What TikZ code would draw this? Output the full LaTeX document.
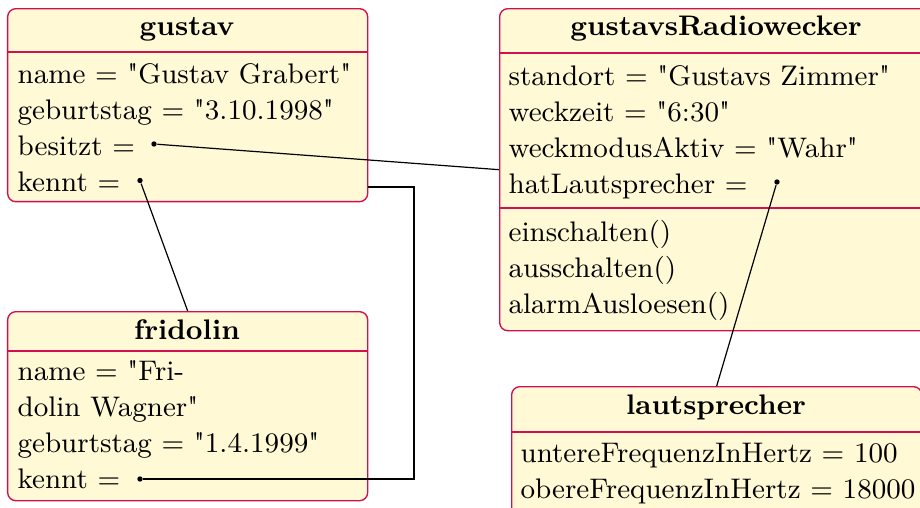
\documentclass[tikz,border=0pt]{standalone}
\definecolor{boxfill}{RGB}{255,249,214}
\definecolor{boxline}{RGB}{210,16,80}
\font\lmquote="[lmroman9-regular]" at 9.43pt
\newcommand\qd{{\lmquote\char"22}}
\newcommand\txtsize{\fontsize{9.43pt}{11.3pt}\selectfont}
\begin{document}
\begin{tikzpicture}[x=0.33333pt,y=-0.33333pt,
  cls/.style={draw=boxline,fill=boxfill,line width=0.45pt,rounded corners=2.7pt,inner sep=0pt,anchor=north west},
  sep/.style={draw=boxline,line width=0.45pt},
  title/.style={inner sep=0pt,anchor=base,font=\txtsize\bfseries},
  attr/.style={inner sep=0pt,anchor=base west,font=\txtsize},
  dot/.style={circle,fill=black,inner sep=0pt,minimum size=1.8pt},
  conn/.style={draw=black,line width=0.4pt}]
\useasboundingbox (0,0) rectangle (920,508);

% gustav
\node[cls,minimum width=120pt,minimum height=64.33pt] (gustav) at (7,8) {};
\draw[sep] (gustav.west |- 0,52) -- (gustav.east |- 0,52);
\node[title] (gt) at (187,35) {gustav};
\node[attr] (g1) at (17,83) {name = \qd Gustav Grabert\qd};
\node[attr] (g2) at (17,119) {geburtstag = \qd 3.10.1998\qd};
\node[attr] (g3) at (17,155) {besitzt =};
\node[attr] (g4) at (17,191) {kennt =};

% fridolin
\node[cls,minimum width=120pt,minimum height=63pt] (fridolin) at (7,311) {};
\draw[sep] (fridolin.west |- 0,351) -- (fridolin.east |- 0,351);
\node[title] (ft) at (187,339) {fridolin};
\node[attr] (f1) at (17,380) {name = \qd Fri-};
\node[attr] (f2) at (17,416) {dolin Wagner\qd};
\node[attr] (f3) at (17,452) {geburtstag = \qd 1.4.1999\qd};
\node[attr] (f4) at (17,488) {kennt =};

% gustavsRadiowecker
\node[cls,minimum width=144.67pt,minimum height=107.33pt] (radio) at (499,8) {};
\draw[sep] (radio.west |- 0,53) -- (radio.east |- 0,53);
\draw[sep] (radio.west |- 0,208) -- (radio.east |- 0,208);
\node[title] (rt) at (716,35) {gustavsRadiowecker};
\node[attr] (r1) at (508,85) {standort = \qd Gustavs Zimmer\qd};
\node[attr] (r2) at (508,121) {weckzeit = \qd 6:30\qd};
\node[attr] (r3) at (508,157) {weckmodusAktiv = \qd Wahr\qd};
\node[attr] (r4) at (508,193) {hatLautsprecher =};
\node[attr] (r5) at (508,241) {einschalten()};
\node[attr] (r6) at (508,277) {ausschalten()};
\node[attr] (r7) at (508,313) {alarmAusloesen()};

% lautsprecher
\node[cls,minimum width=136.67pt,minimum height=45pt] (laut) at (511,386) {};
\draw[sep] (laut.west |- 0,432) -- (laut.east |- 0,432);
\node[title] (lt) at (716,414) {lautsprecher};
\node[attr] (l1) at (520,462) {untereFrequenzInHertz = 100};
\node[attr] (l2) at (520,498) {obereFrequenzInHertz = 18000};

% dots
\node[dot] (d1) at (154,144) {};
\node[dot] (d2) at (140,180.5) {};
\node[dot] (d3) at (140,479) {};
\node[dot] (d4) at (777,182) {};
\coordinate (bend) at (414,187);

% connectors
\draw[conn] (d1) -- (radio.west);
\draw[conn] (d2) -- (fridolin.north);
\draw[conn] (gustav.east |- bend) -- (bend) |- (d3);
\draw[conn] (d4) -- (laut.north);
\end{tikzpicture}
\end{document}
